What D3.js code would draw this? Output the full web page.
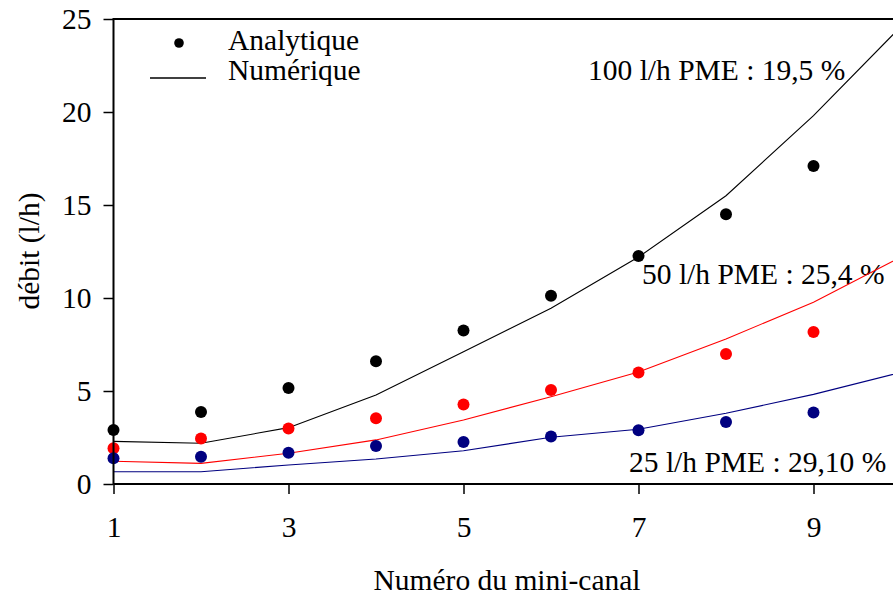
<!DOCTYPE html>
<html>
<head>
<meta charset="utf-8">
<script src="https://cdn.jsdelivr.net/npm/d3@7"></script>
<style>
  html, body { margin: 0; padding: 0; background: #fff; overflow: hidden; }
  svg { display: block; }
  text { font-family: "Liberation Serif", "Times New Roman", serif; fill: #000; }
</style>
</head>
<body>
<svg id="chart" width="893" height="606"></svg>
<script>
// ---- data ----
const canals = [1, 2, 3, 4, 5, 6, 7, 8, 9];
const canalsNum = [1, 2, 3, 4, 5, 6, 7, 8, 9, 10];
const analytique100 = [2.9, 3.87, 5.16, 6.6, 8.25, 10.12, 12.26, 14.5, 17.1];
const analytique50  = [1.92, 2.44, 2.99, 3.53, 4.28, 5.05, 6.0, 6.99, 8.17];
const analytique25  = [1.38, 1.47, 1.68, 2.04, 2.26, 2.56, 2.89, 3.33, 3.85];
const numerique100 = [2.29, 2.19, 3.03, 4.78, 7.11, 9.45, 12.2, 15.5, 19.8, 24.6];
const numerique50  = [1.22, 1.11, 1.65, 2.37, 3.44, 4.69, 6.02, 7.8, 9.77, 12.2];
const numerique25  = [0.66, 0.66, 1.02, 1.34, 1.79, 2.51, 2.94, 3.8, 4.82, 6.0];
const xTicks = [1, 3, 5, 7, 9];
const yTicks = [0, 5, 10, 15, 20, 25];
const seriesNames = ["Analytique", "Numérique"];
const annotations = ["100 l/h PME : 19,5 %", "50 l/h PME : 25,4 %", "25 l/h PME : 29,10 %"];
const xTitle = "Numéro du mini-canal";
const yTitle = "débit (l/h)";

// ---- layout ----
const FS = 29.5;
const svg = d3.select("#chart");
const x = d3.scaleLinear().domain([1, 11]).range([113.5, 988.5]);
const y = d3.scaleLinear().domain([0, 25]).range([484, 19]);

const series = [
  { num: numerique100, ana: analytique100, color: "#000000", label: annotations[0], lx: 588, ly: 80 },
  { num: numerique50,  ana: analytique50,  color: "#ff0000", label: annotations[1], lx: 642, ly: 284 },
  { num: numerique25,  ana: analytique25,  color: "#000080", label: annotations[2], lx: 629, ly: 472 }
];

// annotations
series.forEach(s => {
  svg.append("text").attr("x", s.lx).attr("y", s.ly)
    .style("font-size", FS + "px").text(s.label);
});

// lines
const line = d3.line().x((d, i) => x(canalsNum[i])).y(d => y(d));
series.forEach(s => {
  svg.append("path").datum(s.num)
    .attr("d", line)
    .attr("fill", "none")
    .attr("stroke", s.color)
    .attr("stroke-width", 1.1);
});

// dots
series.forEach(s => {
  svg.append("g").selectAll("circle").data(s.ana).join("circle")
    .attr("cx", (d, i) => x(canals[i]))
    .attr("cy", d => y(d))
    .attr("r", 6)
    .attr("fill", s.color);
});

// axes
const xAxis = svg.append("g").attr("transform", `translate(0,${y(0)})`)
  .call(d3.axisBottom(x).tickValues(xTicks).tickSize(10).tickSizeOuter(0).tickPadding(22));
const yAxis = svg.append("g").attr("transform", `translate(${x(1)},0)`)
  .call(d3.axisLeft(y).tickValues(yTicks).tickSize(10).tickSizeOuter(0).tickPadding(12));
[xAxis, yAxis].forEach(a => {
  a.select(".domain").attr("stroke", "#000").attr("stroke-width", 2);
  a.selectAll(".tick line").attr("stroke", "#000").attr("stroke-width", 1.5);
  a.selectAll(".tick text").style("font-size", FS + "px")
    .style("font-family", '"Liberation Serif", "Times New Roman", serif').attr("fill", "#000");
});
xAxis.select(".domain").attr("d", `M${x(1)},0H893`);
yAxis.select(".domain").attr("d", `M0,${y(0)}V${y(25)}`);
// top frame
svg.append("line").attr("x1", x(1) - 1).attr("x2", 893)
  .attr("y1", y(25)).attr("y2", y(25))
  .attr("stroke", "#000").attr("stroke-width", 2);

// legend
svg.append("circle").attr("cx", 179).attr("cy", 43).attr("r", 4.8).attr("fill", "#000");
svg.append("line").attr("x1", 150).attr("x2", 206).attr("y1", 78).attr("y2", 78)
  .attr("stroke", "#000").attr("stroke-width", 1.5);
svg.append("text").attr("x", 228).attr("y", 50).style("font-size", FS + "px").text(seriesNames[0]);
svg.append("text").attr("x", 228).attr("y", 80).style("font-size", FS + "px").text(seriesNames[1]);

// axis titles
svg.append("text").attr("x", 507).attr("y", 590).attr("text-anchor", "middle")
  .style("font-size", FS + "px").text(xTitle);
svg.append("text").attr("transform", "translate(39,251) rotate(-90)").attr("text-anchor", "middle")
  .style("font-size", FS + "px").text(yTitle);
</script>
</body>
</html>
